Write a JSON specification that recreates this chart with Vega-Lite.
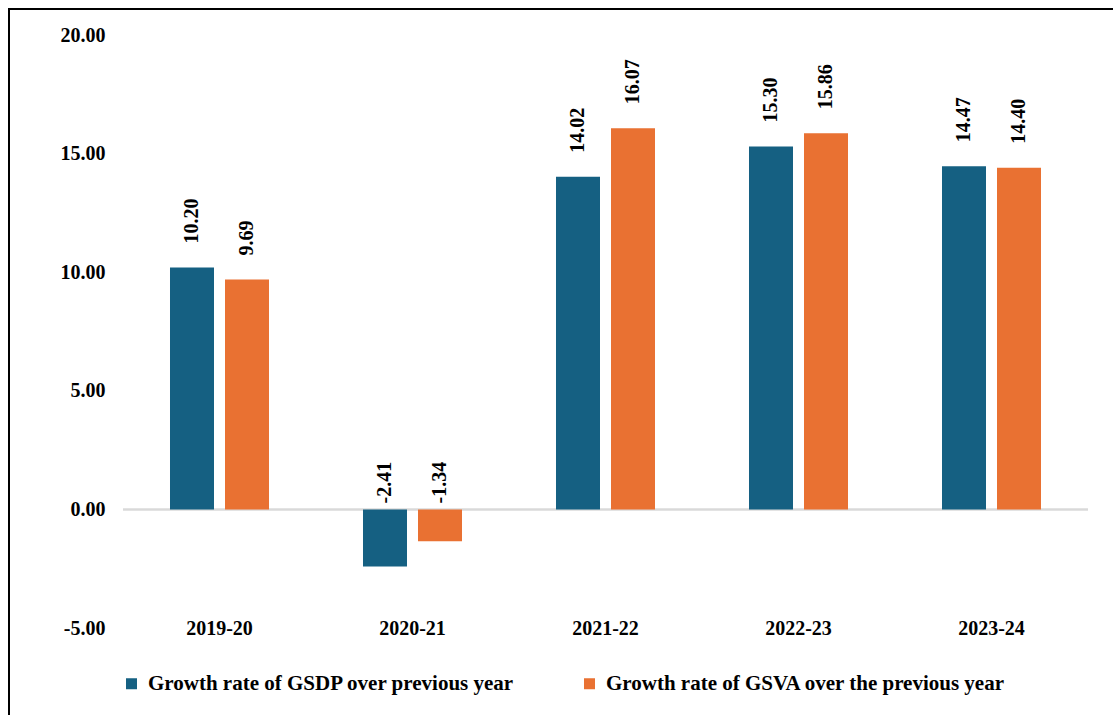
{
  "$schema": "https://vega.github.io/schema/vega-lite/v6.json",
  "autosize": "none",
  "padding": {"left": 9, "top": 9, "right": 0, "bottom": 0},
  "width": 1104,
  "height": 706,
  "background": "white",
  "config": {
    "locale": {"number": {"decimal": ".", "thousands": ",", "grouping": [3], "currency": ["$", ""], "minus": "-"}},
    "view": {"stroke": "#000000", "strokeWidth": 2, "strokeDash": [1104, 1810, 706]},
    "font": "Liberation Serif",
    "text": {"font": "Liberation Serif"}
  },
  "data": {
    "values": [
      {"year": "2019-20", "series": "Growth rate of GSDP over previous year", "value": 10.20},
      {"year": "2019-20", "series": "Growth rate of GSVA over the previous year", "value": 9.69},
      {"year": "2020-21", "series": "Growth rate of GSDP over previous year", "value": -2.41},
      {"year": "2020-21", "series": "Growth rate of GSVA over the previous year", "value": -1.34},
      {"year": "2021-22", "series": "Growth rate of GSDP over previous year", "value": 14.02},
      {"year": "2021-22", "series": "Growth rate of GSVA over the previous year", "value": 16.07},
      {"year": "2022-23", "series": "Growth rate of GSDP over previous year", "value": 15.30},
      {"year": "2022-23", "series": "Growth rate of GSVA over the previous year", "value": 15.86},
      {"year": "2023-24", "series": "Growth rate of GSDP over previous year", "value": 14.47},
      {"year": "2023-24", "series": "Growth rate of GSVA over the previous year", "value": 14.40}
    ]
  },
  "encoding": {
    "x": {
      "field": "year", "type": "nominal", "sort": null,
      "scale": {"range": [114, 1079], "paddingInner": 0, "paddingOuter": 0},
      "axis": {
        "title": null, "labelAngle": 0, "domain": false, "ticks": false, "grid": false,
        "labelFont": "Liberation Serif", "labelFontWeight": "bold", "labelFontSize": 20, "labelColor": "#000000",
        "labelBaseline": "middle", "labelPadding": 0, "offset": -87
      }
    }
  },
  "layer": [
    {
      "mark": {"type": "tick", "size": 193, "thickness": 2, "color": "#d9d9d9", "opacity": 1},
      "encoding": {"y": {"datum": 0, "type": "quantitative", "scale": {"domain": [-5, 20], "nice": false, "range": [619, 26]}}}
    },
    {
      "mark": {"type": "bar"},
      "encoding": {
        "xOffset": {"field": "series", "type": "nominal", "sort": null, "scale": {"paddingInner": 0.2, "paddingOuter": 0.8545}},
        "y": {
          "field": "value", "type": "quantitative",
          "scale": {"domain": [-5, 20], "nice": false, "range": [619, 26]},
          "axis": {
            "title": null, "values": [-5, 0, 5, 10, 15, 20], "format": ".2f", "grid": false, "domain": false, "ticks": false,
            "labelFont": "Liberation Serif", "labelFontWeight": "bold", "labelFontSize": 20, "labelColor": "#000000",
            "labelPadding": 0, "offset": -96
          }
        },
        "color": {
          "field": "series", "type": "nominal",
          "scale": {"domain": ["Growth rate of GSDP over previous year", "Growth rate of GSVA over the previous year"], "range": ["#156082", "#E97132"]},
          "legend": {
            "title": null, "orient": "none", "legendX": 112, "legendY": 664, "direction": "horizontal",
            "symbolType": "square", "symbolSize": 121, "symbolStrokeWidth": 0, "symbolOpacity": 1,
            "labelFont": "Liberation Serif", "labelFontWeight": "bold", "labelFontSize": 21, "labelColor": "#000000",
            "labelOffset": 6, "columnPadding": 64, "labelLimit": 600, "padding": 0
          }
        }
      }
    },
    {
      "transform": [{"filter": "datum.value >= 0"}],
      "mark": {"type": "text", "angle": -90, "align": "left", "baseline": "middle", "dx": 24, "font": "Liberation Serif", "fontWeight": "bold", "fontSize": 20, "color": "#000000"},
      "encoding": {
        "xOffset": {"field": "series", "type": "nominal", "sort": null},
        "y": {"field": "value", "type": "quantitative"},
        "text": {"field": "value", "type": "quantitative", "format": ".2f"}
      }
    },
    {
      "transform": [{"filter": "datum.value < 0"}],
      "mark": {"type": "text", "angle": -90, "align": "left", "baseline": "middle", "dx": 6, "font": "Liberation Serif", "fontWeight": "bold", "fontSize": 20, "color": "#000000"},
      "encoding": {
        "xOffset": {"field": "series", "type": "nominal", "sort": null},
        "y": {"datum": 0, "type": "quantitative"},
        "text": {"field": "value", "type": "quantitative", "format": ".2f"}
      }
    }
  ]
}
